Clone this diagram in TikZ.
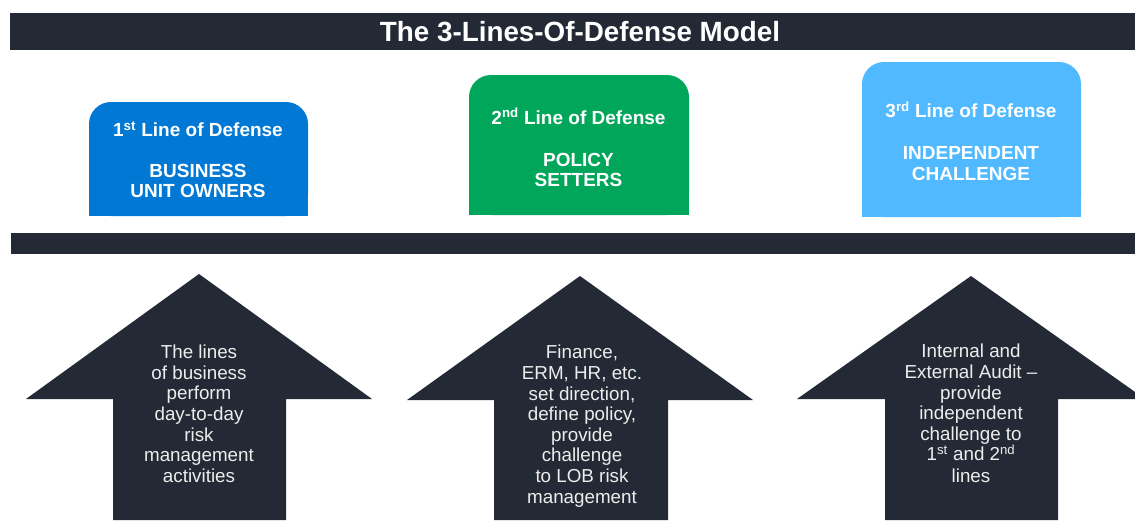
\documentclass[tikz,border=0pt]{standalone}
\usepackage{fontspec}
\setmainfont{Liberation Sans}
\definecolor{navy}{HTML}{242A35}
\definecolor{lodblue}{HTML}{0078D4}
\definecolor{lodgreen}{HTML}{00A65A}
\definecolor{lodsky}{HTML}{50B9FF}
\definecolor{arrowtext}{HTML}{EDEDED}
\tikzset{
  bar/.style={fill=navy, draw=none},
  uparrow/.style={fill=navy, draw=none},
  linebox/.style={rectangle, rounded corners=22pt, draw=none, inner sep=0pt},
  boxhead/.style={anchor=base, text=white, font=\fontsize{19}{20}\selectfont\bfseries},
  % multi-line labels are placed by the baseline of their last line
  boxbody/.style={anchor=base, align=center, text=white, font=\fontsize{19}{20.5}\selectfont\bfseries},
  arrowlabel/.style={anchor=base, align=center, text=arrowtext, font=\fontsize{18.8}{20.6}\selectfont}
}
\begin{document}
\begin{tikzpicture}[x=1pt,y=-1pt]
\useasboundingbox (0,0) rectangle (1135,520);
\fill[white] (0,0) rectangle (1135,520);
\clip (0,0) rectangle (1135,520);

% title band and separator band
\fill[bar] (10,13) rectangle (1135,50);
\node[anchor=base, text=white, font=\fontsize{27.8}{30}\selectfont\bfseries] (title) at (580,41) {The 3-Lines-Of-Defense Model};
\fill[bar] (11,233) rectangle (1135,254);

% three coloured boxes, rounded on top only
\node[linebox, fill=lodblue, minimum width=219pt, minimum height=114pt] (box1) at (198.5,159) {};
\fill[lodblue] (box1.west) rectangle (box1.south east);
\node[linebox, fill=lodgreen, minimum width=220pt, minimum height=140pt] (box2) at (579,145) {};
\fill[lodgreen] (box2.west) rectangle (box2.south east);
\node[linebox, fill=lodsky, minimum width=219pt, minimum height=155pt] (box3) at (971.5,139.5) {};
\fill[lodsky] (box3.west) rectangle (box3.south east);

\node[boxhead] (head1) at (198,136.5) {1\textsuperscript{st} Line of Defense};
\node[boxbody] (body1) at (198,197.5) {BUSINESS\\UNIT OWNERS};
\node[boxhead] (head2) at (578.5,124) {2\textsuperscript{nd} Line of Defense};
\node[boxbody] (body2) at (578.5,186.7) {POLICY\\SETTERS};
\node[boxhead] (head3) at (971,117.3) {3\textsuperscript{rd} Line of Defense};
\node[boxbody] (body3) at (971,180) {INDEPENDENT\\CHALLENGE};

% upward block arrows
\fill[uparrow] (199,274) -- (372,399) -- (286,399) -- (286,520) -- (113,520) -- (113,399) -- (26,399) -- cycle;
\fill[uparrow] (580,276) -- (753,400) -- (668,400) -- (668,520) -- (494,520) -- (494,400) -- (407,400) -- cycle;
\fill[uparrow] (971,276) -- (1145,399) -- (1058,399) -- (1058,520) -- (885,520) -- (885,399) -- (797,399) -- cycle;

\node[arrowlabel] (text1) at (199,482.3) {The lines\\of business\\perform\\day-to-day\\risk\\management\\activities};
\node[arrowlabel] (text2) at (582,503) {Finance,\\ERM, HR, etc.\\set direction,\\define policy,\\provide\\challenge\\to LOB risk\\management};
\node[arrowlabel] (text3) at (971,482.5) {Internal and\\External Audit --\\provide\\independent\\challenge to\\1\textsuperscript{st} and 2\textsuperscript{nd}\\[1pt]lines};
\end{tikzpicture}
\end{document}
